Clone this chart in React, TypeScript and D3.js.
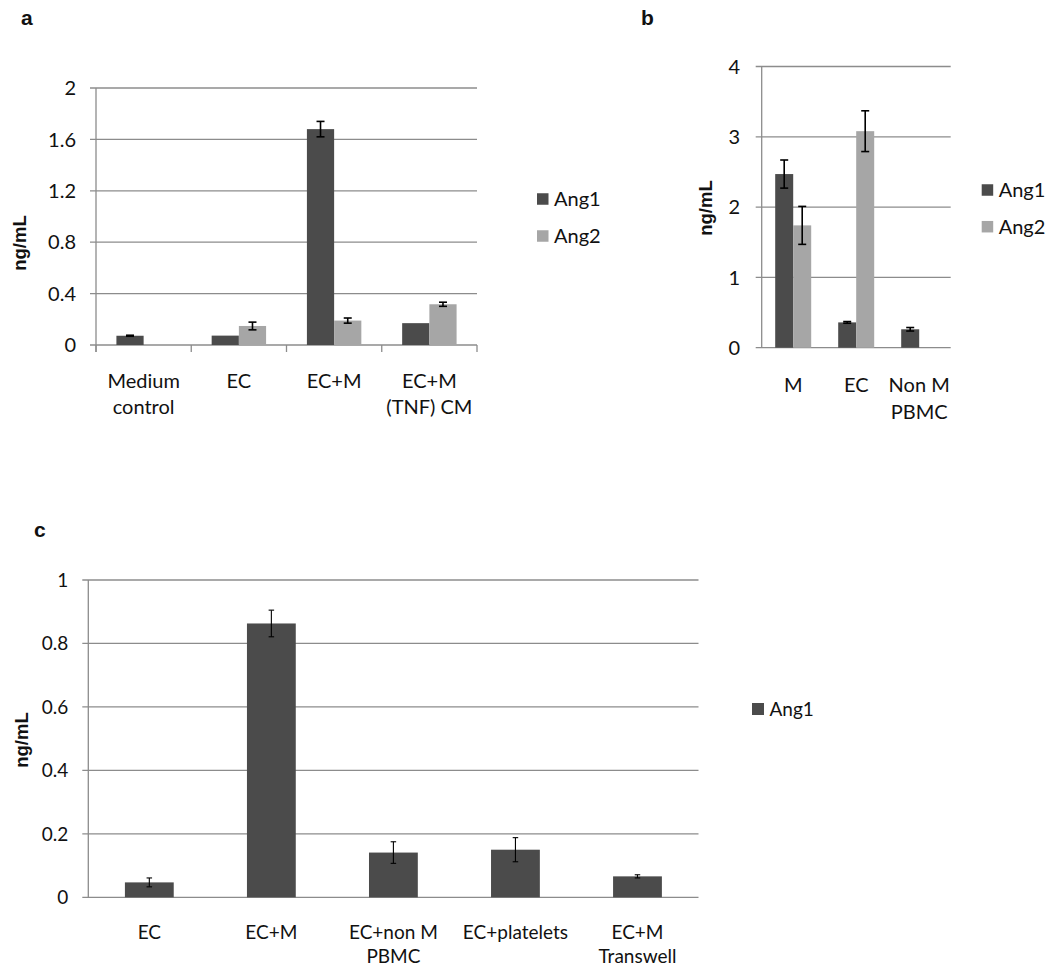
import React from "react";
import * as d3 from "d3";

// ---------- Data ----------
const seriesNames = ["Ang1", "Ang2"];

// Panel a
const catsA = ["Medium\ncontrol", "EC", "EC+M", "EC+M\n(TNF) CM"];
const ang1A = [0.072, 0.073, 1.68, 0.17];
const ang1AErr = [0.004, 0, 0.06, 0];
const ang2A = [0, 0.148, 0.19, 0.317];
const ang2AErr = [0, 0.03, 0.02, 0.016];
const ticksA = [0, 0.4, 0.8, 1.2, 1.6, 2];

// Panel b
const catsB = ["M", "EC", "Non M\nPBMC"];
const ang1B = [2.47, 0.36, 0.262];
const ang1BErr = [0.2, 0.012, 0.025];
const ang2B = [1.74, 3.08, 0];
const ang2BErr = [0.27, 0.29, 0];
const ticksB = [0, 1, 2, 3, 4];

// Panel c
const catsC = ["EC", "EC+M", "EC+non M\nPBMC", "EC+platelets", "EC+M\nTranswell"];
const ang1C = [0.047, 0.863, 0.141, 0.15, 0.066];
const ang1CErr = [0.014, 0.042, 0.034, 0.038, 0.005];
const ticksC = [0, 0.2, 0.4, 0.6, 0.8, 1];

const COLORS = ["#4b4b4b", "#a6a6a6"];
const GRID = "#8c8c8c";
const FONT = "Lato, 'Open Sans', sans-serif";
const BOLD = "'Liberation Sans', Arial, sans-serif";

type PanelProps = {
  cats: string[];
  series: number[][];
  errs: number[][];
  ticks: number[];
  domainMax: number;
  left: number;
  right: number;
  y0: number;
  yTop: number;
  fs: number;
  tickGap: number;
  catY: number;
  lineH: number;
  bottomTicks: boolean;
  capW: number;
  errW: number;
};

function Panel(p: PanelProps) {
  const x = d3.scaleBand<number>().domain(p.cats.map((_, i) => i)).range([p.left, p.right]).padding(0);
  const y = d3.scaleLinear().domain([0, p.domainMax]).range([p.y0, p.yTop]);
  const nS = p.series.length;
  const bw = x.bandwidth();
  const barW = bw / (nS + 1.5);
  const inner = d3.scaleBand<number>().domain(d3.range(nS)).range([0, barW * nS]).padding(0);
  return (
    <g>
      {p.ticks.map((t) => (
        <g key={"t" + t}>
          <line x1={p.left - 6} x2={p.right} y1={y(t)} y2={y(t)} stroke={GRID} strokeWidth={1.3} />
          <text
            x={p.left - p.tickGap}
            y={y(t) + p.fs * 0.36}
            textAnchor="end"
            fontFamily={FONT}
            fontSize={p.fs}
            fill="#111"
          >
            {t}
          </text>
        </g>
      ))}
      <line x1={p.left} x2={p.left} y1={p.yTop} y2={p.y0 + (p.bottomTicks ? 7 : 0)} stroke={GRID} strokeWidth={1.3} />
      {p.bottomTicks &&
        d3.range(p.cats.length + 1).map((i) => {
          const xx = p.left + i * bw;
          return <line key={"bt" + i} x1={xx} x2={xx} y1={p.y0} y2={p.y0 + 7} stroke={GRID} strokeWidth={1.3} />;
        })}
      {p.series.map((vals, s) =>
        vals.map((v, i) => {
          if (v <= 0) return null;
          const bx = (x(i) as number) + bw / 2 - barW * nS / 2 + (inner(s) as number);
          const e = p.errs[s][i];
          const cx = bx + barW / 2;
          return (
            <g key={`b${s}-${i}`}>
              <rect x={bx} y={y(v)} width={barW} height={p.y0 - y(v)} fill={COLORS[s]} />
              {e > 0 && (
                <g stroke="#000" strokeWidth={p.errW}>
                  <line x1={cx} x2={cx} y1={y(v + e)} y2={y(v - e)} />
                  <line x1={cx - p.capW / 2} x2={cx + p.capW / 2} y1={y(v + e)} y2={y(v + e)} />
                  <line x1={cx - p.capW / 2} x2={cx + p.capW / 2} y1={y(v - e)} y2={y(v - e)} />
                </g>
              )}
            </g>
          );
        })
      )}
      {p.cats.map((c, i) => {
        const cx = (x(i) as number) + bw / 2;
        return c.split("\n").map((line, k) => (
          <text
            key={`c${i}-${k}`}
            x={cx}
            y={p.catY + k * p.lineH + p.fs * 0.36}
            textAnchor="middle"
            fontFamily={FONT}
            fontSize={p.fs}
            fill="#111"
          >
            {line}
          </text>
        ));
      })}
    </g>
  );
}

function Legend({ x, ys, names, size, fs }: { x: number; ys: number[]; names: string[]; size: number; fs: number }) {
  return (
    <g>
      {names.map((n, i) => (
        <g key={n}>
          <rect x={x} y={ys[i] - size / 2} width={size} height={size} fill={COLORS[i]} />
          <text x={x + size + 5.5} y={ys[i] + fs * 0.36} fontFamily={FONT} fontSize={fs} fill="#111">
            {n}
          </text>
        </g>
      ))}
    </g>
  );
}

function YLabel({ x, y }: { x: number; y: number }) {
  return (
    <text
      transform={`translate(${x},${y}) rotate(-90)`}
      textAnchor="middle"
      dominantBaseline="central"
      fontFamily={BOLD}
      fontWeight="bold"
      fontSize={18.5}
      fill="#111"
    >
      ng/mL
    </text>
  );
}

function PanelLetter({ x, y, t }: { x: number; y: number; t: string }) {
  return (
    <text x={x} y={y} fontFamily={BOLD} fontWeight="bold" fontSize={21} fill="#111">
      {t}
    </text>
  );
}

export default function App() {
  return (
    <div style={{ position: "absolute", left: 0, top: 0 }}>
      <svg width={1050} height={973} style={{ display: "block", background: "#fff" }}>
        <PanelLetter x={21} y={25} t="a" />
        <PanelLetter x={641} y={25} t="b" />
        <PanelLetter x={34} y={537} t="c" />

        <Panel
          cats={catsA}
          series={[ang1A, ang2A]}
          errs={[ang1AErr, ang2AErr]}
          ticks={ticksA}
          domainMax={2}
          left={96}
          right={477}
          y0={345}
          yTop={88}
          fs={20}
          tickGap={20}
          catY={381}
          lineH={25.5}
          bottomTicks={true}
          capW={8}
          errW={1.6}
        />
        <YLabel x={19} y={243} />
        <Legend x={537} ys={[199, 236]} names={seriesNames} size={11.5} fs={20} />

        <Panel
          cats={catsB}
          series={[ang1B, ang2B]}
          errs={[ang1BErr, ang2BErr]}
          ticks={ticksB}
          domainMax={4}
          left={761.7}
          right={950.7}
          y0={347.7}
          yTop={66.5}
          fs={20}
          tickGap={21.5}
          catY={384.5}
          lineH={27.5}
          bottomTicks={false}
          capW={8}
          errW={1.6}
        />
        <YLabel x={705} y={208} />
        <Legend x={981.7} ys={[190, 226.7]} names={seriesNames} size={11.5} fs={20} />

        <Panel
          cats={catsC}
          series={[ang1C]}
          errs={[ang1CErr]}
          ticks={ticksC}
          domainMax={1}
          left={88.3}
          right={698.5}
          y0={897.3}
          yTop={580}
          fs={19}
          tickGap={20}
          catY={931.7}
          lineH={24}
          bottomTicks={false}
          capW={5.5}
          errW={1.1}
        />
        <YLabel x={21} y={740} />
        <Legend x={752} ys={[709]} names={["Ang1"]} size={12} fs={19} />
      </svg>
    </div>
  );
}
